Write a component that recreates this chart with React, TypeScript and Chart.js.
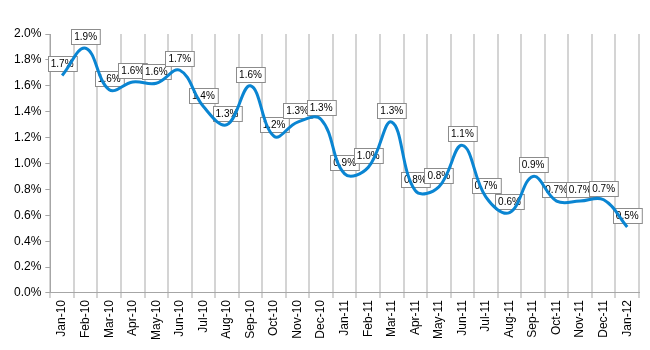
import React, { useEffect, useRef } from "react";
import { Chart, registerables } from "chart.js";

Chart.register(...registerables);

const categories = [
  "Jan-10", "Feb-10", "Mar-10", "Apr-10", "May-10", "Jun-10", "Jul-10", "Aug-10",
  "Sep-10", "Oct-10", "Nov-10", "Dec-10", "Jan-11", "Feb-11", "Mar-11", "Apr-11",
  "May-11", "Jun-11", "Jul-11", "Aug-11", "Sep-11", "Oct-11", "Nov-11", "Dec-11", "Jan-12",
];

const rates = [
  1.68, 1.89, 1.57, 1.63, 1.62, 1.72, 1.44, 1.30, 1.60, 1.21, 1.32, 1.34, 0.92,
  0.97, 1.32, 0.79, 0.82, 1.14, 0.74, 0.62, 0.90, 0.71, 0.71, 0.72, 0.51,
];

const yTicks = [0, 0.2, 0.4, 0.6, 0.8, 1.0, 1.2, 1.4, 1.6, 1.8, 2.0];

const FONT = "'Liberation Sans', Arial, sans-serif";

const labelBoxes = {
  id: "labelBoxes",
  beforeDatasetsDraw(chart: any) {
    const ctx = chart.ctx;
    const meta = chart.getDatasetMeta(0);
    const data = chart.data.datasets[0].data as number[];
    ctx.save();
    ctx.font = `10px ${FONT}`;
    ctx.textAlign = "center";
    ctx.textBaseline = "middle";
    meta.data.forEach((pt: any, i: number) => {
      const text = data[i].toFixed(1) + "%";
      const w = ctx.measureText(text).width + 6;
      const h = 15;
      const x = Math.round(pt.x - w / 2) + 0.5;
      const yb = Math.round(pt.y - 4) + 0.5;
      ctx.fillStyle = "#ffffff";
      ctx.fillRect(x, yb - h, w, h);
      ctx.strokeStyle = "#8c8c8c";
      ctx.lineWidth = 1;
      ctx.strokeRect(x, yb - h, w, h);
      ctx.fillStyle = "#000000";
      ctx.fillText(text, pt.x, yb - h / 2);
    });
    ctx.restore();
  },
};

export default function App() {
  const ref = useRef<HTMLCanvasElement | null>(null);
  useEffect(() => {
    document.body.style.margin = "0";
    if (!ref.current) return;
    const chart = new Chart(ref.current, {
      type: "line",
      data: {
        labels: categories,
        datasets: [
          {
            data: rates,
            borderColor: "#0a85d2",
            borderWidth: 3,
            pointRadius: 0,
            tension: 0.4,
            fill: false,
          },
        ],
      },
      options: {
        animation: false,
        responsive: false,
        layout: { padding: { top: 34, right: 11, bottom: 8, left: 10 } },
        plugins: { legend: { display: false }, tooltip: { enabled: false } },
        scales: {
          x: {
            offset: true,
            grid: {
              offset: true,
              color: "#d4d4d4",
              lineWidth: 2,
              tickLength: 5,
              drawOnChartArea: true,
            },
            border: { color: "#a6a6a6", width: 1 },
            ticks: {
              color: "#000",
              font: { family: FONT, size: 12 },
              minRotation: 90,
              maxRotation: 90,
              autoSkip: false,
              padding: 2,
            },
          },
          y: {
            min: 0,
            max: 2.0,
            afterBuildTicks(scale: any) {
              scale.ticks = yTicks.map((v) => ({ value: v }));
            },
            grid: {
              drawOnChartArea: false,
              color: "#a6a6a6",
              tickLength: 5,
            },
            border: { color: "#a6a6a6", width: 1 },
            ticks: {
              color: "#000",
              font: { family: FONT, size: 12 },
              padding: 4,
              callback: (v: any) => Number(v).toFixed(1) + "%",
            },
          },
        },
      },
      plugins: [labelBoxes],
    });
    return () => chart.destroy();
  }, []);
  return (
    <div style={{ width: 650, height: 350 }}>
      <canvas ref={ref} width={650} height={350} />
    </div>
  );
}
